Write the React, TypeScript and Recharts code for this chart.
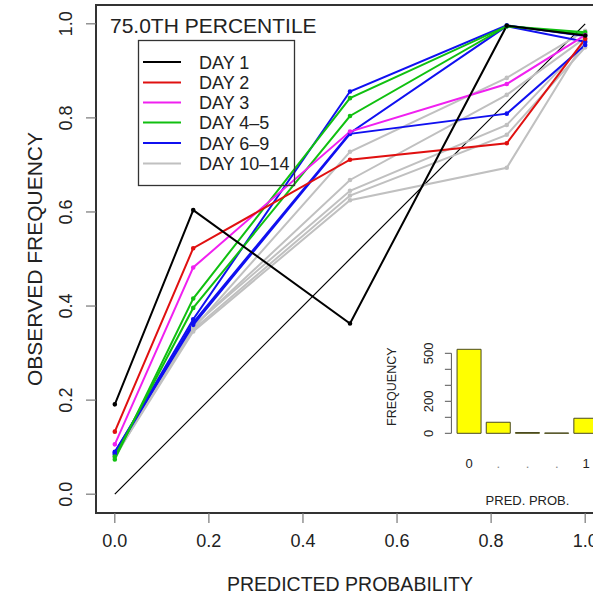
import React from 'react';
import { LineChart, Line, XAxis, YAxis, ReferenceArea, ReferenceLine, BarChart, Bar } from 'recharts';

// predicted probability bins
const probs = [0, 0.1667, 0.5, 0.8333, 1];

// observed frequency per forecast day
const day1 = [0.191, 0.604, 0.363, 0.996, 0.975];
const day2 = [0.133, 0.523, 0.711, 0.746, 0.968];
const day3 = [0.106, 0.482, 0.771, 0.872, 0.976];
const day4 = [0.074, 0.416, 0.842, 0.995, 0.982];
const day5 = [0.08, 0.396, 0.804, 0.995, 0.978];
const day6 = [0.088, 0.372, 0.856, 0.997, 0.974];
const day7 = [0.085, 0.365, 0.768, 0.995, 0.962];
const day8 = [0.09, 0.36, 0.766, 0.809, 0.955];
const day10 = [0.082, 0.352, 0.728, 0.885, 0.985];
const day11 = [0.085, 0.356, 0.668, 0.849, 0.97];
const day12 = [0.078, 0.358, 0.645, 0.785, 0.96];
const day13 = [0.088, 0.35, 0.635, 0.764, 0.95];
const day14 = [0.08, 0.346, 0.625, 0.694, 0.965];

const xTicks = [0, 0.2, 0.4, 0.6, 0.8, 1];
const yTicks = [0, 0.2, 0.4, 0.6, 0.8, 1];

const legendLabels = ['DAY 1', 'DAY 2', 'DAY 3', 'DAY 4–5', 'DAY 6–9', 'DAY 10–14'];
const legendColors = ['#000000', '#e01010', '#f020f0', '#10c010', '#1010f0', '#c0c0c0'];

// inset histogram of forecast probabilities
const histLabels = ['0', '.', '.', '.', '1'];
const histCounts = [525, 69, 5, 2, 94];
const histTicks = [0, 100, 200, 300, 400, 500];
const histShown = [0, 200, 500];

const GRAY = '#c0c0c0';
const series = [
  { key: 'd14', values: day14, color: GRAY },
  { key: 'd13', values: day13, color: GRAY },
  { key: 'd12', values: day12, color: GRAY },
  { key: 'd11', values: day11, color: GRAY },
  { key: 'd10', values: day10, color: GRAY },
  { key: 'd8', values: day8, color: '#1010f0' },
  { key: 'd7', values: day7, color: '#1010f0' },
  { key: 'd6', values: day6, color: '#1010f0' },
  { key: 'd5', values: day5, color: '#10c010' },
  { key: 'd4', values: day4, color: '#10c010' },
  { key: 'd3', values: day3, color: '#f020f0' },
  { key: 'd2', values: day2, color: '#e01010' },
  { key: 'd1', values: day1, color: '#000000' },
];

const rows = probs.map((p, i) => {
  const r: Record<string, number> = { p };
  series.forEach((s) => (r[s.key] = s.values[i]));
  return r;
});

const histRows = histLabels.map((label, i) => ({ label, count: histCounts[i] }));

const FONT = '"Liberation Sans", Arial, Helvetica, sans-serif';
const INK = '#222';

const XTick = ({ x, y, payload }: any) => (
  <text x={x} y={y + 24} textAnchor="middle" fontSize={18} fill={INK} fontFamily={FONT}>
    {Number(payload.value).toFixed(1)}
  </text>
);

const YTick = ({ x, y, payload }: any) => (
  <text
    x={x - 14}
    y={y}
    transform={`rotate(-90 ${x - 14} ${y})`}
    textAnchor="middle"
    fontSize={18}
    fill={INK}
    fontFamily={FONT}
  >
    {Number(payload.value).toFixed(1)}
  </text>
);

// inset y-axis: own tick marks and an axis line that stops at the last tick
const HIST_MAX = 550;
const HIST_H = 88;
const histStep = (100 * HIST_H) / HIST_MAX;

const HistYTick = ({ x, y, payload }: any) => {
  const v = payload.value;
  return (
    <g>
      <line x1={x} x2={x - 6.5} y1={y} y2={y} stroke="#555" strokeWidth={1} />
      {v < 500 && <line x1={x} x2={x} y1={y} y2={y - histStep} stroke="#555" strokeWidth={1} />}
      {histShown.includes(v) && (
        <text
          x={x - 18.5}
          y={y}
          transform={`rotate(-90 ${x - 18.5} ${y})`}
          textAnchor="middle"
          fontSize={13}
          fill={INK}
          fontFamily={FONT}
        >
          {v}
        </text>
      )}
    </g>
  );
};

const HistXTick = ({ x, y, payload }: any) => (
  <text
    x={x}
    y={y + 34.5}
    textAnchor="middle"
    fontSize={13}
    fill={payload.value === '.' ? '#888' : INK}
    fontFamily={FONT}
  >
    {payload.value}
  </text>
);

const legendRowY = [62, 82.5, 102.5, 122.5, 143, 163.5];

export default function App() {
  return (
    <div
      style={{
        position: 'fixed',
        left: 0,
        top: 0,
        width: 593,
        height: 595,
        overflow: 'hidden',
        background: '#fff',
        fontFamily: FONT,
      }}
    >
      <LineChart width={612} height={595} data={rows} margin={{ top: 5, right: 8, left: 0, bottom: 0 }}>
        <XAxis
          dataKey="p"
          type="number"
          domain={[-0.04, 1.04]}
          ticks={xTicks}
          height={82}
          axisLine={false}
          tickSize={10}
          tickMargin={0}
          tickLine={{ stroke: '#777', strokeWidth: 1.2 }}
          tick={XTick}
        />
        <YAxis
          type="number"
          domain={[-0.04, 1.04]}
          ticks={yTicks}
          width={96}
          axisLine={false}
          tickSize={10}
          tickMargin={0}
          tickLine={{ stroke: '#777', strokeWidth: 1.2 }}
          tick={YTick}
        />
        <ReferenceArea x1={-0.04} x2={1.04} y1={-0.04} y2={1.04} fill="none" stroke="#333" strokeWidth={2} />
        <ReferenceLine segment={[{ x: 0, y: 0 }, { x: 1, y: 1 }]} stroke="#000" strokeWidth={1.2} />
        {series.map((s) => (
          <Line
            key={s.key}
            dataKey={s.key}
            type="linear"
            stroke={s.color}
            strokeWidth={2}
            dot={{ r: 1.3, fill: s.color, stroke: s.color }}
            activeDot={false}
            isAnimationActive={false}
          />
        ))}
      </LineChart>

      <div style={{ position: 'absolute', left: 370, top: 330 }}>
        <BarChart
          width={240}
          height={180}
          data={histRows}
          margin={{ top: 15.3, right: 6.2, left: 0, bottom: 0 }}
          barCategoryGap="8.4%"
        >
          <XAxis
            dataKey="label"
            height={76.7}
            axisLine={false}
            tickLine={false}
            tickSize={0}
            tickMargin={0}
            padding={{ left: 3.2, right: 3.2 }}
            interval={0}
            tick={HistXTick}
          />
          <YAxis
            width={81.4}
            domain={[0, HIST_MAX]}
            ticks={histTicks}
            axisLine={false}
            tickLine={false}
            tickSize={0}
            tickMargin={0}
            interval={0}
            tick={HistYTick}
          />
          <Bar dataKey="count" fill="#ffff00" stroke="#4a4a20" strokeWidth={1} isAnimationActive={false} />
        </BarChart>
      </div>

      <svg
        width={593}
        height={595}
        style={{ position: 'absolute', left: 0, top: 0, pointerEvents: 'none' }}
        fontFamily={FONT}
      >
        <text x={110} y={33} fontSize={21} fill={INK}>
          75.0TH PERCENTILE
        </text>
        <text x={350} y={591} fontSize={19.5} fill={INK} textAnchor="middle">
          PREDICTED PROBABILITY
        </text>
        <text x={42} y={259} fontSize={21} fill={INK} textAnchor="middle" transform="rotate(-90 42 259)">
          OBSERVED FREQUENCY
        </text>
        <rect x={138.5} y={40.5} width={156} height={145} fill="none" stroke="#333" strokeWidth={1.3} />
        {legendLabels.map((l, i) => (
          <g key={l}>
            <line x1={143} x2={181} y1={legendRowY[i]} y2={legendRowY[i]} stroke={legendColors[i]} strokeWidth={2} />
            <text x={199} y={legendRowY[i] + 6.5} fontSize={18} fill={INK}>
              {l}
            </text>
          </g>
        ))}
        <text x={527.5} y={505} fontSize={13} fill={INK} textAnchor="middle">
          PRED. PROB.
        </text>
        <text x={396} y={386.7} fontSize={12.5} fill={INK} textAnchor="middle" transform="rotate(-90 396 386.7)">
          FREQUENCY
        </text>
      </svg>
    </div>
  );
}
